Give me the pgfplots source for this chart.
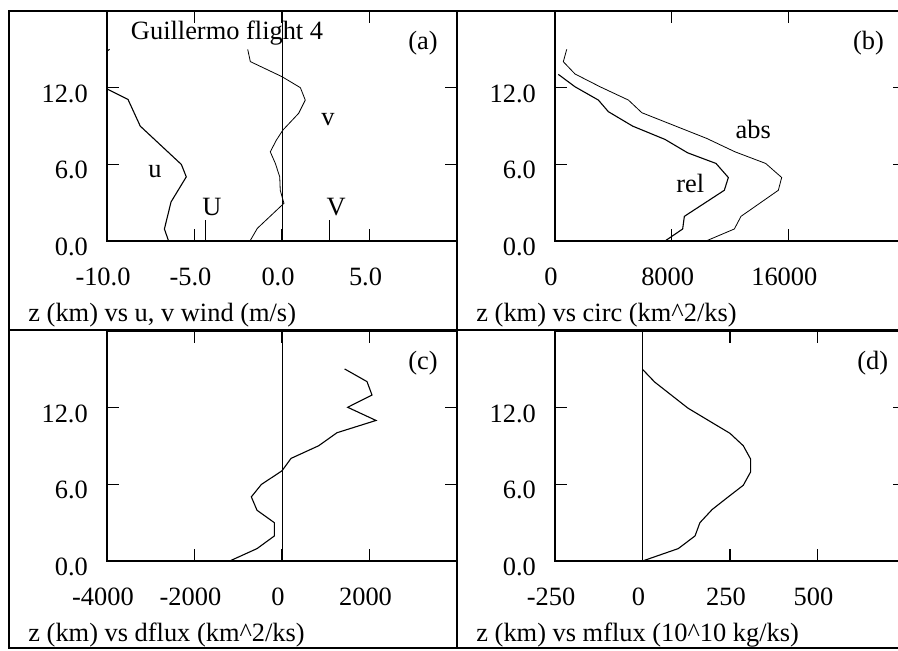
\documentclass[border=0pt]{standalone}
\usepackage{fontspec}
\setmainfont{Liberation Serif}
\usepackage{pgfplots}
\pgfplotsset{compat=1.18}

\pgfplotsset{
  panel/.style={
    scale only axis,
    width=175pt, height=115pt,
    anchor=south west,
    font=\fontsize{13.2}{15}\selectfont,
    axis line style={line width=0.75pt},
    tick align=inside,
    major tick length=6pt,
    tick style={black, line width=0.6pt},
    scaled ticks=false,
    ymin=0, ymax=18,
    ytick={0,6,12}, yticklabels={0.0,6.0,12.0},
    yticklabel style={yshift=-3pt, xshift=-5pt},
    xticklabel style={yshift=-9pt, xshift=-2pt},
    cycle list={{black, line width=0.55pt, mark=none, line join=round}},
  },
}

\begin{document}
\fontsize{13.2}{15}\selectfont
\begin{tikzpicture}[x=1pt,y=1pt]

% (a) u, v wind
\begin{axis}[panel, at={(53.5pt,204.5pt)},
    xmin=-10, xmax=10,
    xtick={-10,-5,0,5}, xticklabels={-10.0,-5.0,0.0,5.0}]
  \addplot coordinates {(0,0) (0,18)};
  \addplot coordinates {
    (-6.48,0) (-6.72,0.94) (-6.34,3.06) (-5.47,5.02) (-5.75,5.99)
    (-8.10,8.99) (-8.80,11.08) (-9.96,11.87) (-11.5,13.5) (-9.85,15.0)
  };
  \addplot coordinates {
    (-1.83,0) (-1.41,0.99) (0.11,2.95) (-0.10,3.97) (-0.13,5.02)
    (-0.38,6.07) (-0.67,6.98) (-0.32,7.90) (0.05,8.68) (0.95,9.99)
    (1.33,11.03) (1.05,12.0) (0,12.86) (-1.81,14.04) (-1.96,15.0)
  };
  \addplot coordinates {(-4.4,0) (-4.4,1.64)};
  \addplot coordinates {(2.69,0) (2.69,1.64)};
  \node at (axis cs:-3.14,16.3) {Guillermo flight 4};
  \node at (axis cs:8.06,15.5) {(a)};
  \node at (axis cs:2.63,9.47) {v};
  \node at (axis cs:-7.26,5.4) {u};
  \node at (axis cs:-4.0,2.66) {U};
  \node at (axis cs:3.1,2.66) {V};
\end{axis}

% (b) circulation
\begin{axis}[panel, at={(277.5pt,204.5pt)},
    xmin=0, xmax=24000,
    xtick={0,8000,16000}, xticklabels={0,8000,16000}]
  \addplot coordinates {
    (10354,0) (12297,0.94) (12754,1.93) (15314,3.97) (15543,4.97)
    (14446,6.07) (12343,6.98) (10400,8.03) (5954,10.04) (5034,11.03)
    (3090,12.07) (1373,13.07) (570,14.03) (803,15.0)
  };
  \addplot coordinates {
    (7543,0) (8754,0.94) (8869,1.93) (11611,3.97) (11886,4.97)
    (11040,6.07) (9097,6.9) (7543,7.95) (5326,8.99) (3660,10.12)
    (2973,11.03) (1373,12.07) (227,13.04)
  };
  \node at (axis cs:21494,15.5) {(b)};
  \node at (axis cs:13597,8.69) {abs};
  \node at (axis cs:9270,4.54) {rel};
\end{axis}

% (c) dflux
\begin{axis}[panel, at={(53.5pt,44.5pt)},
    xmin=-4000, xmax=4000,
    xtick={-4000,-2000,0,2000}, xticklabels={-4000,-2000,0,2000}]
  \addplot coordinates {(0,0) (0,18)};
  \addplot coordinates {
    (-1196,0) (-571,0.97) (-175,1.96) (-175,3.0) (-571,3.97)
    (-701,5.02) (-472,5.99) (0,7.06) (206,8.03) (838,9.02)
    (1257,10.04) (2149,11.0) (1501,12.03) (2057,12.99) (1943,14.04)
    (1432,15.03)
  };
  \node at (axis cs:3223,15.5) {(c)};
\end{axis}

% (d) mflux
\begin{axis}[panel, at={(277.5pt,44.5pt)},
    xmin=-250, xmax=750,
    xtick={-250,0,250,500}, xticklabels={-250,0,250,500}]
  \addplot coordinates {(0,0) (0,18)};
  \addplot coordinates {
    (0,0) (102,0.97) (150,1.96) (164,3.0) (199,4.03) (245,5.02)
    (288,5.93) (309,6.98) (309,7.97) (288,9.02) (250,9.99)
    (130,11.96) (35,14.0) (0,15.0)
  };
  \node at (axis cs:658,15.5) {(d)};
\end{axis}

% panel frames
\draw[line width=0.6pt] (4.5,1) rectangle (452.5,319.5);
\draw[line width=0.6pt] (228.5,1) -- (228.5,319.5);
\draw[line width=0.6pt] (4.5,160) -- (452.5,160);

% panel captions
\node[anchor=base west, inner sep=0pt] at (14,164.5) {z (km) vs u, v wind (m/s)};
\node[anchor=base west, inner sep=0pt] at (238,164.5) {z (km) vs circ (km\textasciicircum 2/ks)};
\node[anchor=base west, inner sep=0pt] at (14,4.5) {z (km) vs dflux (km\textasciicircum 2/ks)};
\node[anchor=base west, inner sep=0pt] at (238,4.5) {z (km) vs mflux (10\textasciicircum 10 kg/ks)};

\pgfresetboundingbox
\useasboundingbox (0,0) rectangle (449,325);
\end{tikzpicture}
\end{document}
